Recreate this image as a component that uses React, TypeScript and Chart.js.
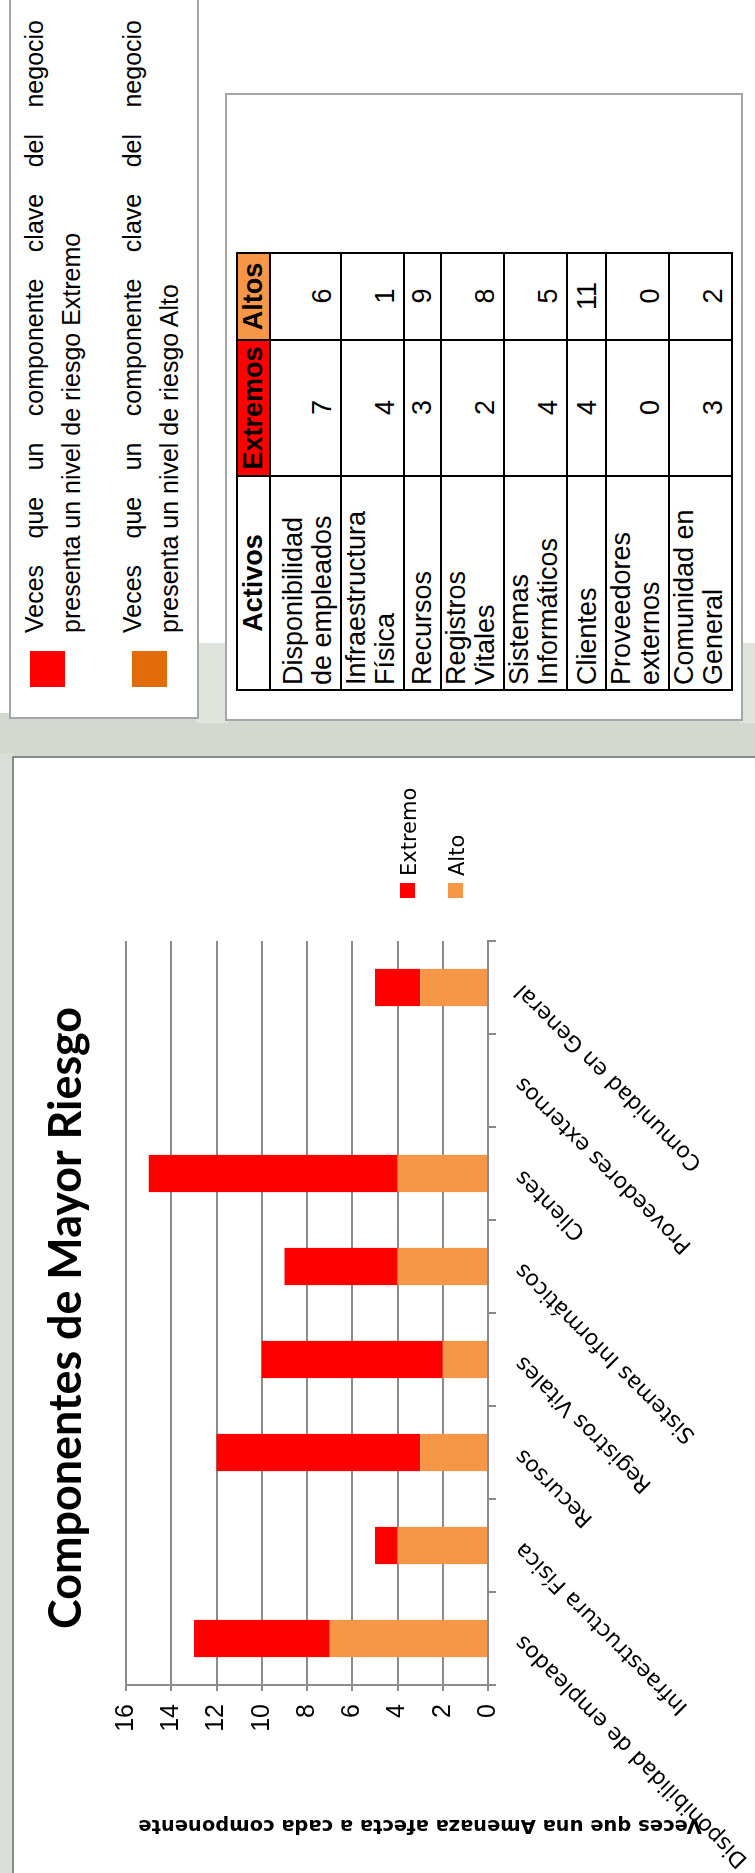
import React, { useEffect, useRef } from "react";
import { Chart, registerables } from "chart.js";

Chart.register(...registerables);

// ---------- data ----------
const categories = [
  "Disponibilidad de empleados",
  "Infraestructura Física",
  "Recursos",
  "Registros Vitales",
  "Sistemas Informáticos",
  "Clientes",
  "Proveedores externos",
  "Comunidad en General",
];
// stacked chart as drawn: orange "Alto" at the bottom, red "Extremo" on top
const altoValues = [7, 4, 3, 2, 4, 4, 0, 3];
const extremoValues = [6, 1, 9, 8, 5, 11, 0, 2];
const yMin = 0;
const yMax = 16;
const yStep = 2;

const chartTitle = "Componentes de Mayor Riesgo";
const yAxisTitle = "Veces que una Amenaza afecta a cada componente";
const seriesNames = ["Alto", "Extremo"];
const seriesColors = ["#f79646", "#ff0000"];

const tableHeaders = ["Activos", "Extremos", "Altos"];
const tableActivos = [
  ["Disponibilidad", "de empleados"],
  ["Infraestructura", "Física"],
  ["Recursos"],
  ["Registros", "Vitales"],
  ["Sistemas", "Informáticos"],
  ["Clientes"],
  ["Proveedores", "externos"],
  ["Comunidad en", "General"],
];
const tableExtremos = [7, 4, 3, 2, 4, 4, 0, 3];
const tableAltos = [6, 1, 9, 8, 5, 11, 0, 2];

const keyLine1 = "Veces que un componente clave del negocio";
const keyLine2Extremo = "presenta un nivel de riesgo Extremo";
const keyLine2Alto = "presenta un nivel de riesgo Alto";

// ---------- layout (unrotated page, 1873 x 755) ----------
const rowHeights = [33, 71, 63, 37, 63, 63, 39, 63, 62];
const colWidths = [214, 136, 87];

const overlayPlugin = {
  id: "overlayText",
  afterDraw(chart: any) {
    const ctx = chart.ctx as CanvasRenderingContext2D;
    ctx.save();
    ctx.fillStyle = "#000";
    ctx.textAlign = "center";
    ctx.textBaseline = "alphabetic";
    ctx.font = "bold 46px Lato";
    ctx.fillText(chartTitle, 555, 67, 622);
    ctx.restore();

    ctx.save();
    ctx.fillStyle = "#000";
    ctx.translate(48, 406);
    ctx.rotate(-Math.PI / 2);
    ctx.textAlign = "center";
    ctx.textBaseline = "middle";
    ctx.font = 'bold 19.5px "DejaVu Sans"';
    ctx.fillText(yAxisTitle, 0, 0);
    ctx.restore();

    // legend: Extremo first, then Alto
    const order = [...chart.data.datasets].reverse();
    ctx.save();
    ctx.font = '21px "DejaVu Sans"';
    ctx.textAlign = "left";
    ctx.textBaseline = "alphabetic";
    order.forEach((ds: any, i: number) => {
      const top = 386 + i * 48;
      ctx.fillStyle = ds.backgroundColor;
      ctx.fillRect(975, top, 15, 15);
      ctx.fillStyle = "#000";
      ctx.fillText(ds.label, 997, top + 15.5);
    });
    ctx.restore();
  },
};

function ChartPanel() {
  const ref = useRef<HTMLCanvasElement | null>(null);
  useEffect(() => {
    if (!ref.current) return;
    const chart = new Chart(ref.current, {
      type: "bar",
      data: {
        labels: categories,
        datasets: [
          {
            label: seriesNames[0],
            data: altoValues,
            backgroundColor: seriesColors[0],
            barPercentage: 0.4,
            categoryPercentage: 1,
          },
          {
            label: seriesNames[1],
            data: extremoValues,
            backgroundColor: seriesColors[1],
            barPercentage: 0.4,
            categoryPercentage: 1,
          },
        ],
      },
      options: {
        responsive: false,
        animation: false,
        devicePixelRatio: 1,
        layout: { padding: { top: 112, right: 182, left: 0, bottom: 0 } },
        plugins: {
          legend: { display: false },
          title: { display: false },
          tooltip: { enabled: false },
        },
        scales: {
          x: {
            stacked: true,
            grid: {
              display: true,
              drawOnChartArea: false,
              drawTicks: true,
              tickLength: 8,
              color: "#8a8a8a",
              lineWidth: 2,
              offset: true,
            },
            border: { display: true, color: "#8a8a8a", width: 2 },
            ticks: {
              autoSkip: false,
              minRotation: 45,
              maxRotation: 45,
              padding: 14,
              color: "#000",
              font: { family: "DejaVu Sans", size: 22 },
            },
            afterFit(scale: any) {
              scale.height = 267;
              scale.paddingLeft = 0;
              scale.paddingRight = 0;
            },
          },
          y: {
            stacked: true,
            min: yMin,
            max: yMax,
            ticks: {
              stepSize: yStep,
              padding: 13,
              color: "#000",
              font: { family: "Liberation Sans", size: 25 },
            },
            grid: { color: "#8c8c8c", lineWidth: 2, tickLength: 6 },
            border: { display: true, color: "#8c8c8c", width: 2 },
            afterFit(scale: any) {
              scale.width = 188;
            },
          },
        },
      },
      plugins: [overlayPlugin],
    } as any);
    return () => chart.destroy();
  }, []);
  return (
    <canvas
      ref={ref}
      width={1114}
      height={741}
      style={{ position: "absolute", left: 0, top: 14, width: 1114, height: 741 }}
    />
  );
}

const textFont = '"Liberation Sans", Arial, sans-serif';

function KeyBox() {
  const lineStyle = (top: number, justify: boolean): React.CSSProperties => ({
    position: "absolute",
    left: 84,
    top,
    width: 613,
    fontFamily: textFont,
    fontSize: 25,
    lineHeight: "25px",
    whiteSpace: "nowrap",
    textAlign: justify ? "justify" : "left",
    textAlignLast: justify ? "justify" : "left",
    color: "#000",
  } as React.CSSProperties);
  return (
    <div
      style={{
        position: "absolute",
        left: 1154,
        top: 9,
        width: 740,
        height: 190,
        border: "2px solid #a6a6a6",
        boxSizing: "border-box",
        background: "#fff",
      }}
    >
      <div style={{ position: "absolute", left: 30, top: 19, width: 36, height: 35, background: "#ff0000" }} />
      <div style={{ position: "absolute", left: 30, top: 121, width: 36, height: 35, background: "#e36c0a" }} />
      <div style={lineStyle(11, true)}>{keyLine1}</div>
      <div style={lineStyle(48, false)}>{keyLine2Extremo}</div>
      <div style={lineStyle(109, true)}>{keyLine1}</div>
      <div style={lineStyle(146, false)}>{keyLine2Alto}</div>
    </div>
  );
}

function TableBox() {
  const cell: React.CSSProperties = {
    border: "2px solid #000",
    padding: "0 3px 3px 4px",
    verticalAlign: "bottom",
    fontFamily: textFont,
    fontSize: 27,
    lineHeight: "29px",
    color: "#000",
    overflow: "hidden",
  };
  const head: React.CSSProperties = {
    ...cell,
    fontWeight: "bold",
    verticalAlign: "middle",
    textAlign: "center",
    padding: "0 1px",
  };
  return (
    <>
      <div
        style={{
          position: "absolute",
          left: 1152,
          top: 225,
          width: 628,
          height: 518,
          border: "2px solid #a6a6a6",
          boxSizing: "border-box",
          background: "#fff",
        }}
      />
      <table
        style={{
          position: "absolute",
          left: 1182,
          top: 236,
          borderCollapse: "collapse",
          tableLayout: "fixed",
          width: colWidths[0] + colWidths[1] + colWidths[2],
        }}
      >
        <colgroup>
          {colWidths.map((w, i) => (
            <col key={i} style={{ width: w }} />
          ))}
        </colgroup>
        <tbody>
          <tr style={{ height: rowHeights[0] }}>
            <td style={{ ...head, background: "#fff" }}>{tableHeaders[0]}</td>
            <td style={{ ...head, background: "#ff0000" }}>{tableHeaders[1]}</td>
            <td style={{ ...head, background: "#f79646" }}>{tableHeaders[2]}</td>
          </tr>
          {tableActivos.map((lines, i) => (
            <tr key={i} style={{ height: rowHeights[i + 1] }}>
              <td style={{ ...cell, textAlign: "left" }}>
                {lines.map((l, j) => (
                  <div key={j} style={{ whiteSpace: "nowrap" }}>{l}</div>
                ))}
              </td>
              <td style={{ ...cell, textAlign: "center" }}>{tableExtremos[i]}</td>
              <td style={{ ...cell, textAlign: "center" }}>{tableAltos[i]}</td>
            </tr>
          ))}
        </tbody>
      </table>
    </>
  );
}

export default function App() {
  return (
    <div
      style={{
        position: "fixed",
        left: 0,
        top: 0,
        width: 755,
        height: 1873,
        overflow: "hidden",
        background: "#fff",
      }}
    >
      <div
        style={{
          position: "absolute",
          left: 0,
          top: 0,
          width: 1873,
          height: 755,
          transformOrigin: "0 0",
          transform: "translateY(1873px) rotate(-90deg)",
          background: "#fff",
        }}
      >
        {/* watermark-like background in the gaps */}
        <div style={{ position: "absolute", left: 1110, top: 0, width: 50, height: 755, background: "#d3d9cf" }} />
        <div style={{ position: "absolute", left: 0, top: 0, width: 1120, height: 14, background: "#d9dfd6" }} />
        <div style={{ position: "absolute", left: 1150, top: 196, width: 80, height: 32, background: "#dfe4dc" }} />
        <div style={{ position: "absolute", left: 1150, top: 740, width: 80, height: 15, background: "#dfe4dc" }} />
        {/* chart frame */}
        <div
          style={{
            position: "absolute",
            left: -10,
            top: 12,
            width: 1127,
            height: 760,
            borderTop: "2px solid #8a8a8a",
            borderRight: "2px solid #8a8a8a",
            boxSizing: "border-box",
            background: "#fff",
          }}
        />
        <ChartPanel />
        <KeyBox />
        <TableBox />
      </div>
    </div>
  );
}
